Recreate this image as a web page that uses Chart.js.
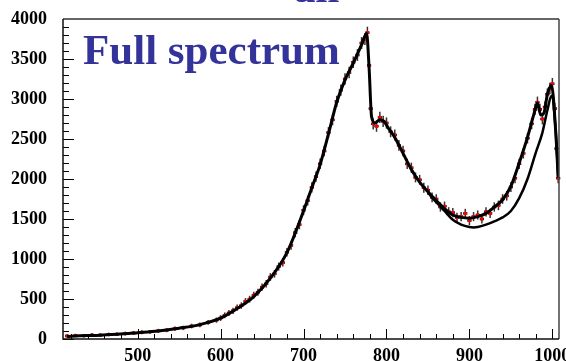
<!DOCTYPE html>
<html>
<head>
<meta charset="utf-8">
<script src="https://cdn.jsdelivr.net/npm/chart.js@4/dist/chart.umd.min.js"></script>
<style>
  html, body { margin: 0; padding: 0; background: #fff; }
  canvas { display: block; }
</style>
</head>
<body>
<canvas id="spec" width="566" height="361"></canvas>
<script>
// --- DATA ---
// measured spectrum: mass bins, counts, errors
const dataMass = [415,425,435,445,455,465,475,485,495,505,515,525,535,545,555,565,575,585,595,
  600,605,610,615,620,625,630,635,640,645,650,655,660,665,670,675,680,685,690,695,
  700,705,710,715,720,725,730,735,740,745,750,755,760,765,770,774,777,
  779,781,784,788,792,796,800,
  805,810,815,820,825,830,835,840,845,850,855,860,865,870,875,880,885,890,895,900,
  905,910,915,920,925,930,935,940,945,950,955,960,965,970,975,
  979,982,985,988,991,994,997,1000,1003,1005,1007];
const dataCounts = [38,44,40,50,49,57,60,68,74,84,90,102,110,130,138,162,176,208,236,
  262,296,325,352,392,418,470,498,548,585,648,690,775,815,905,955,1085,1170,1330,1430,
  1610,1730,1895,2030,2190,2350,2580,2740,2970,3110,3250,3330,3460,3550,3700,3750,3830,
  3420,2880,2690,2660,2770,2720,2700,
  2590,2550,2420,2350,2190,2140,2020,1990,1890,1860,1770,1750,1650,1660,1590,1580,1520,1530,1570,1480,
  1530,1550,1500,1590,1570,1650,1670,1750,1790,1900,2010,2190,2320,2510,2690,
  2870,2960,2870,2750,2900,3060,3130,3190,2880,2380,2010];
const dataErr = [20,20,20,21,21,22,22,23,23,24,24,25,25,27,27,29,29,31,33,
  36,36,38,38,40,40,42,42,44,44,46,46,48,48,50,50,54,54,58,58,
  62,62,64,64,66,66,68,68,70,70,72,72,72,74,74,74,74,
  72,70,70,70,70,70,70,
  68,68,66,66,64,64,62,62,62,60,60,60,58,58,58,58,57,57,57,57,
  57,57,57,58,58,58,60,60,60,62,62,64,64,66,68,
  70,70,70,68,70,72,72,72,70,68,64];

// fit curve
const fitMass = [415,430,450,475,500,525,550,575,600,620,640,660,680,700,710,720,730,740,750,760,770,776,
  779,782,786,792,797,802,810,820,830,840,850,860,870,880,890,900,910,920,930,940,950,960,970,978,982,
  986,990,994,999,1004,1007];
const fitCounts = [30,40,45,58,78,100,135,180,260,380,530,760,1080,1600,1890,2180,2560,2960,3240,3450,3680,3820,
  3400,2780,2700,2740,2720,2640,2520,2320,2120,1960,1840,1730,1630,1550,1520,1510,1530,1570,1650,1740,1910,2200,2520,2820,2950,
  2800,2830,3060,3170,2600,2020];

// second model curve (lower branch)
const altMass = [850,860,870,880,890,900,905,910,920,930,940,950,960,970,980,988,994,999,1004,1007];
const altCounts = [1830,1710,1600,1490,1430,1400,1395,1400,1430,1470,1520,1600,1760,2000,2330,2580,2860,3040,2600,2020];

const yTicks = [0,500,1000,1500,2000,2500,3000,3500,4000];
const xTicks = [500,600,700,800,900,1000];

const pts = (xs, ys) => xs.map((x, i) => ({ x: x, y: ys[i] }));

const tickFont = { family: '"Liberation Serif", "Times New Roman", serif', size: 18, weight: 'bold' };

// error bars under the markers
const errorBars = {
  id: 'errorBars',
  beforeDatasetsDraw(chart) {
    const { ctx, scales: { x, y } } = chart;
    ctx.save();
    for (let i = 0; i < dataMass.length; i++) {
      const px = x.getPixelForValue(dataMass[i]);
      const py = y.getPixelForValue(dataCounts[i]);
      ctx.strokeStyle = '#333';
      ctx.lineWidth = 1.5;
      ctx.beginPath();
      ctx.moveTo(px, y.getPixelForValue(dataCounts[i] - dataErr[i]));
      ctx.lineTo(px, y.getPixelForValue(dataCounts[i] + dataErr[i]));
      ctx.stroke();
      ctx.strokeStyle = '#000';
      ctx.lineWidth = 2.5;
      ctx.beginPath();
      ctx.moveTo(x.getPixelForValue(dataMass[i] - 2.5), py);
      ctx.lineTo(x.getPixelForValue(dataMass[i] + 2.5), py);
      ctx.stroke();
    }
    ctx.restore();
  }
};

// ROOT-like frame with inward ticks, plus the labels on the pad
const frame = {
  id: 'frame',
  afterDraw(chart) {
    const { ctx, chartArea: a, scales: { x, y } } = chart;
    ctx.save();
    ctx.strokeStyle = '#000';
    ctx.lineWidth = 1;
    for (let v = 0; v <= 4000; v += 100) {
      const py = Math.round(y.getPixelForValue(v)) + 0.5;
      const len = v % 500 === 0 ? 11 : 6;
      ctx.beginPath();
      ctx.moveTo(a.left, py);
      ctx.lineTo(a.left + len, py);
      ctx.stroke();
    }
    for (let v = 420; v <= 1000; v += 20) {
      const px = Math.round(x.getPixelForValue(v)) + 0.5;
      const len = v % 100 === 0 ? 10 : 5;
      ctx.beginPath();
      ctx.moveTo(px, a.bottom);
      ctx.lineTo(px, a.bottom - len);
      ctx.stroke();
    }
    // frame
    ctx.strokeStyle = '#666';
    ctx.lineWidth = 2;
    ctx.beginPath();
    ctx.moveTo(a.left, a.top);
    ctx.lineTo(a.right, a.top);
    ctx.stroke();
    ctx.strokeStyle = '#444';
    ctx.lineWidth = 1.5;
    ctx.beginPath();
    ctx.moveTo(a.right, a.top);
    ctx.lineTo(a.right, a.bottom);
    ctx.stroke();
    ctx.strokeStyle = '#111';
    ctx.beginPath();
    ctx.moveTo(a.left, a.top);
    ctx.lineTo(a.left, a.bottom);
    ctx.lineTo(a.right, a.bottom);
    ctx.stroke();

    ctx.fillStyle = '#333399';
    ctx.font = 'bold 43px "Liberation Serif", "Times New Roman", serif';
    ctx.textBaseline = 'alphabetic';
    ctx.textAlign = 'left';
    ctx.fillText('Full spectrum', 83, 64);
    // title of the pad above, cut off by the picture edge
    ctx.fillText('all', 294, 1.5);
    ctx.restore();
  }
};

// drop the label overhang padding so the plot frame sits where the picture has it
const noOverhang = s => { s.paddingLeft = 0; s.paddingRight = 0; s.paddingTop = 0; s.paddingBottom = 0; };

new Chart(document.getElementById('spec'), {
  type: 'scatter',
  data: {
    datasets: [
      { label: 'fit', data: pts(fitMass, fitCounts), showLine: true, borderColor: '#000', borderWidth: 3,
        pointRadius: 0, cubicInterpolationMode: 'monotone', order: 0 },
      { label: 'model', data: pts(altMass, altCounts), showLine: true, borderColor: '#000', borderWidth: 2.5,
        pointRadius: 0, cubicInterpolationMode: 'monotone', order: 1 },
      { label: 'data', data: pts(dataMass, dataCounts), showLine: false, pointRadius: 1.8,
        pointBackgroundColor: '#ff0000', pointBorderWidth: 0, order: 2 }
    ]
  },
  options: {
    responsive: false,
    animation: false,
    layout: { autoPadding: false, padding: { top: 19, right: 7, left: 0, bottom: 0 } },
    plugins: { legend: { display: false }, tooltip: { enabled: false } },
    scales: {
      x: {
        type: 'linear', min: 410, max: 1008,
        grid: { display: false, drawTicks: false },
        border: { display: false },
        afterBuildTicks: s => { s.ticks = xTicks.map(v => ({ value: v })); },
        afterFit: s => { s.height = 22; noOverhang(s); },
        ticks: { font: tickFont, color: '#000', padding: 7, maxRotation: 0, callback: v => String(v) }
      },
      y: {
        type: 'linear', min: 0, max: 4000,
        grid: { display: false, drawTicks: false },
        border: { display: false },
        afterBuildTicks: s => { s.ticks = yTicks.map(v => ({ value: v })); },
        afterFit: s => { s.width = 63; noOverhang(s); },
        ticks: { font: tickFont, color: '#000', padding: 16, callback: v => String(v) }
      }
    }
  },
  plugins: [errorBars, frame]
});
</script>
</body>
</html>
